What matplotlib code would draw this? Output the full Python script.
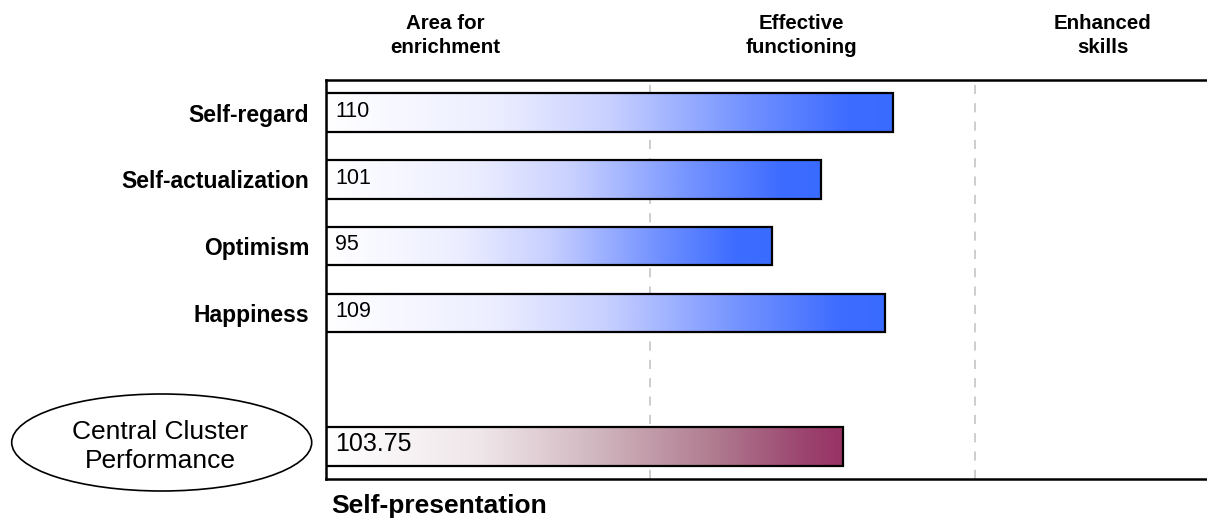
import numpy as np
import matplotlib.pyplot as plt
from matplotlib.colors import LinearSegmentedColormap
from matplotlib.patches import Ellipse
from matplotlib import transforms

plt.rcParams['font.family'] = ['Liberation Sans', 'DejaVu Sans']

# data
categories = ["Self-regard", "Self-actualization", "Optimism", "Happiness"]
scores = [110, 101, 95, 109]
cluster_label = "Self-presentation"
cluster_score = 103.75
zone_names = ["Area for\nenrichment", "Effective\nfunctioning", "Enhanced\nskills"]
zone_centers = [54.7, 98.6, 135.8]
zone_bounds = [80, 120]

x_min = 40
bar_h = 0.576

blue_cmap = LinearSegmentedColormap.from_list(
    "blue_grad", [(0, "#ffffff"), (0.3, "#eceeff"), (0.5, "#c8d0ff"),
                  (0.75, "#7090ff"), (0.92, "#3d6cff"), (1, "#3a6bff")])
purple_cmap = LinearSegmentedColormap.from_list(
    "purple_grad", [(0, "#ffffff"), (0.3, "#efe6e9"), (0.5, "#d4bcc4"),
                    (0.75, "#b07c90"), (0.92, "#9c4670"), (1, "#983366")])

fig = plt.figure(figsize=(12.07, 5.19), dpi=100)
ax = fig.add_axes([326 / 1207, 1 - 479 / 519, 1 - 326 / 1207, 399 / 519])

grad = np.linspace(0, 1, 256).reshape(1, -1)


def gradient_bar(y, value, cmap):
    ax.imshow(grad, extent=[x_min, value, y + bar_h / 2, y - bar_h / 2],
              cmap=cmap, aspect='auto', zorder=2, interpolation='bilinear')
    ax.barh(y, value - x_min, left=x_min, height=bar_h, fill=False,
            edgecolor='black', linewidth=1.6, zorder=3)


positions = list(range(len(categories)))
for y, v in zip(positions, scores):
    gradient_bar(y, v, blue_cmap)
    ax.text(x_min + 1.1, y - 0.02, str(v), fontsize=15.5, va='center', ha='left', zorder=4)

cluster_y = len(categories) + 1
gradient_bar(cluster_y, cluster_score, purple_cmap)
ax.text(x_min + 1.1, cluster_y - 0.03, f"{cluster_score:.2f}", fontsize=18,
        va='center', ha='left', zorder=4)

for b in zone_bounds:
    ax.axvline(b, color='#c0c0c0', linewidth=1.1, linestyle=(0, (6, 6)), zorder=1)

ax.set_xlim(x_min, x_min + (1207 - 326) / 8.107)
ax.set_ylim(cluster_y + 0.49, -0.49)

ax.set_yticks(positions)
ax.set_yticklabels(categories, fontsize=16.5, fontweight='bold')
ax.tick_params(axis='y', length=0, pad=12)
ax.set_xticks([])

for side in ['left', 'top', 'bottom']:
    ax.spines[side].set_linewidth(1.8)
    ax.spines[side].set_color('black')
ax.spines['right'].set_visible(False)

# zone headers above the plot
trans = transforms.blended_transform_factory(ax.transData, fig.transFigure)
for name, xc in zip(zone_names, zone_centers):
    ax.text(xc, 1 - 14 / 519, name, transform=trans, ha='center', va='top',
            fontsize=14.8, fontweight='bold', linespacing=1.32)

# cluster title under the axis
fig.text(331 / 1207, 1 - 513 / 519, cluster_label, fontsize=19,
         fontweight='bold', ha='left', va='baseline')

# ellipse label at the left
ell = Ellipse((161.7 / 1207, 1 - 442.5 / 519), 300 / 1207, 97 / 519,
              transform=fig.transFigure, facecolor='white', edgecolor='black',
              linewidth=1.2)
fig.add_artist(ell)
fig.text(160.5 / 1207, 1 - 446.7 / 519, "Central Cluster\nPerformance",
         fontsize=19, ha='center', va='center', linespacing=1.25)

fig.savefig("out.png", dpi=100)
